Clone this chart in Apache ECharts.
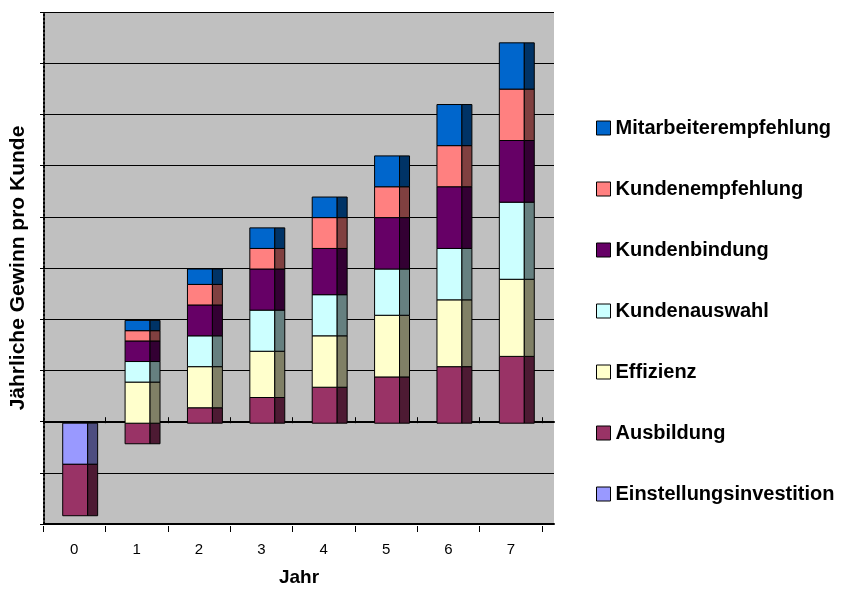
<!DOCTYPE html>
<html>
<head>
<meta charset="utf-8">
<script src="https://cdn.jsdelivr.net/npm/echarts@6/dist/echarts.min.js"></script>
<style>
  html, body { margin: 0; padding: 0; background: #fff; }
  #chart { width: 845px; height: 592px; }
</style>
</head>
<body>
<div id="chart"></div>
<script>
// Jahre (Kategorien)
const years = ['0', '1', '2', '3', '4', '5', '6', '7'];

// Werte je Komponente (Einheit = eine Gitterlinie)
const einstellungsinvestition = [-0.8, 0, 0, 0, 0, 0, 0, 0];
const ausbildung = [-1.0, -0.4, 0.3, 0.5, 0.7, 0.9, 1.1, 1.3];
const effizienz = [0, 0.8, 0.8, 0.9, 1.0, 1.2, 1.3, 1.5];
const kundenauswahl = [0, 0.4, 0.6, 0.8, 0.8, 0.9, 1.0, 1.5];
const kundenbindung = [0, 0.4, 0.6, 0.8, 0.9, 1.0, 1.2, 1.2];
const kundenempfehlung = [0, 0.2, 0.4, 0.4, 0.6, 0.6, 0.8, 1.0];
const mitarbeiterempfehlung = [0, 0.2, 0.3, 0.4, 0.4, 0.6, 0.8, 0.9];

const layers = [
  { name: 'Einstellungsinvestition', data: einstellungsinvestition, front: '#9999FF', side: '#4D4D80' },
  { name: 'Ausbildung', data: ausbildung, front: '#993366', side: '#4D1A33' },
  { name: 'Effizienz', data: effizienz, front: '#FFFFCC', side: '#808066' },
  { name: 'Kundenauswahl', data: kundenauswahl, front: '#CCFFFF', side: '#668080' },
  { name: 'Kundenbindung', data: kundenbindung, front: '#660066', side: '#330033' },
  { name: 'Kundenempfehlung', data: kundenempfehlung, front: '#FF8080', side: '#804040' },
  { name: 'Mitarbeiterempfehlung', data: mitarbeiterempfehlung, front: '#0066CC', side: '#003366' }
];

const font = 'Liberation Sans, Arial, sans-serif';

// gestapelte Segmente [kategorie, von, bis]
const posBase = years.map(() => 0);
const negBase = years.map(() => 0);
const series = layers.map(layer => {
  const segs = [];
  layer.data.forEach((v, i) => {
    if (!v) return;
    if (v > 0) { segs.push([i, posBase[i], posBase[i] + v]); posBase[i] += v; }
    else { segs.push([i, negBase[i], negBase[i] + v]); negBase[i] += v; }
  });
  return {
    name: layer.name,
    type: 'custom',
    xAxisIndex: 2,
    yAxisIndex: 1,
    itemStyle: { color: layer.front, borderColor: '#000', borderWidth: 1 },
    encode: { x: 0, y: [1, 2] },
    data: segs,
    renderItem: function (params, api) {
      const c = api.value(0);
      const a = api.coord([c, api.value(1)]);
      const b = api.coord([c, api.value(2)]);
      const band = api.size([1, 0])[0];
      const fw = band * 0.4, sw = band * 0.16;
      const x0 = a[0] - fw / 2 + 1;
      const y0 = Math.min(a[1], b[1]);
      const h = Math.abs(a[1] - b[1]);
      return {
        type: 'group',
        children: [
          { type: 'rect', shape: { x: x0, y: y0, width: fw, height: h },
            style: { fill: layer.front, stroke: '#000', lineWidth: 1 } },
          { type: 'rect', shape: { x: x0 + fw, y: y0, width: sw, height: h },
            style: { fill: layer.side, stroke: '#000', lineWidth: 1 } }
        ]
      };
    }
  };
});

const chart = echarts.init(document.getElementById('chart'));
chart.setOption({
  animation: false,
  textStyle: { fontFamily: font },
  grid: [
    { left: 43, top: 12, width: 511, height: 514, show: true, backgroundColor: '#C0C0C0', borderWidth: 0 },
    { left: 43, top: 12, width: 499, height: 514 }
  ],
  xAxis: [
    { gridIndex: 0, type: 'value', min: 0, max: 1,
      axisLine: { onZero: true, lineStyle: { color: '#000', width: 2 } },
      axisTick: { show: false }, axisLabel: { show: false }, splitLine: { show: false } },
    { gridIndex: 0, type: 'value', min: 0, max: 1, position: 'bottom',
      axisLine: { onZero: false, lineStyle: { color: '#000', width: 2 } },
      axisTick: { show: false }, axisLabel: { show: false }, splitLine: { show: false },
      name: 'Jahr', nameLocation: 'middle', nameGap: 44,
      nameTextStyle: { fontFamily: font, fontWeight: 'bold', fontSize: 19, color: '#000' } },
    { gridIndex: 1, type: 'category', data: years, position: 'bottom',
      axisLine: { show: false, onZero: false },
      axisTick: { show: true, length: 6, lineStyle: { color: '#000', width: 1 } },
      axisLabel: { fontFamily: font, fontSize: 15, color: '#000', margin: 16 },
      splitLine: { show: false } },
    { gridIndex: 1, type: 'category', data: years,
      axisLine: { show: false, onZero: true },
      axisTick: { show: true, length: 6, lineStyle: { color: '#000', width: 1 } },
      axisLabel: { show: false }, splitLine: { show: false } }
  ],
  yAxis: [
    { gridIndex: 0, type: 'value', min: -2, max: 8, interval: 1,
      axisLine: { show: true, lineStyle: { color: '#000', width: 2, type: 'dotted' } },
      axisTick: { show: true, length: 4, lineStyle: { color: '#000', width: 1 } },
      axisLabel: { show: false },
      splitLine: { show: true, lineStyle: { color: '#000', width: 1 } },
      name: 'Jährliche Gewinn pro Kunde', nameLocation: 'middle', nameGap: 15,
      nameTextStyle: { fontFamily: font, fontWeight: 'bold', fontSize: 21, color: '#000' } },
    { gridIndex: 1, type: 'value', min: -2, max: 8, interval: 1, show: false }
  ],
  legend: {
    orient: 'vertical',
    left: 591,
    top: 113,
    itemWidth: 14,
    itemHeight: 14,
    itemGap: 41,
    icon: 'rect',
    itemStyle: { borderColor: '#000', borderWidth: 1 },
    textStyle: { fontFamily: font, fontWeight: 'bold', fontSize: 20, color: '#000', lineHeight: 20 },
    data: layers.map(l => l.name).reverse()
  },
  series: series
});
</script>
</body>
</html>
